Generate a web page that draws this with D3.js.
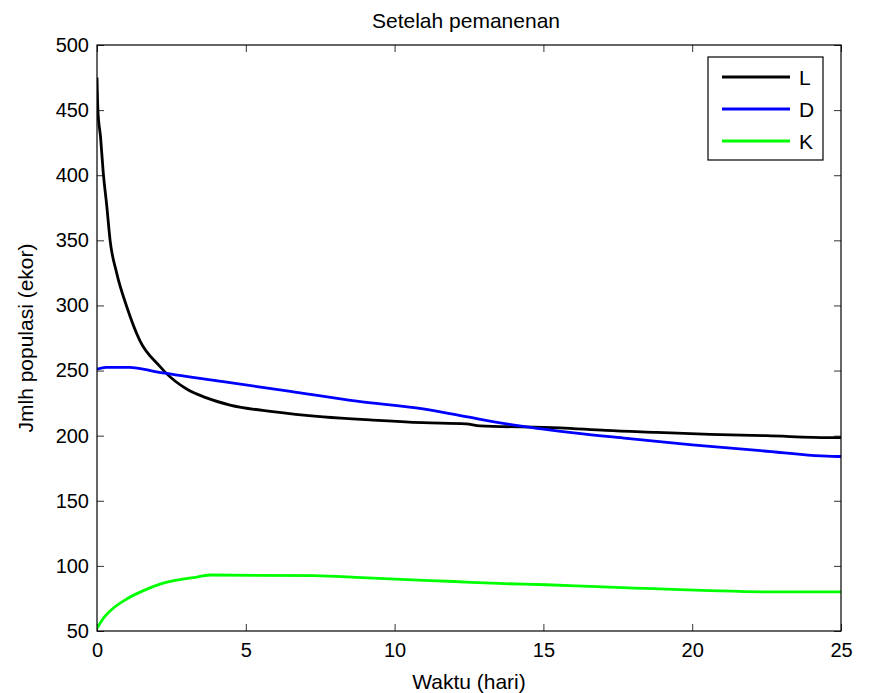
<!DOCTYPE html>
<html>
<head>
<meta charset="utf-8">
<script src="https://cdn.jsdelivr.net/npm/d3@7"></script>
<style>
  html, body { margin: 0; padding: 0; background: #fff; }
  svg { display: block; font-family: "Liberation Sans", Arial, sans-serif; }
  .tick text { font-size: 20px; fill: #000; }
</style>
</head>
<body>
<div id="chart"></div>
<script>
// data (waktu in hari, populasi in ekor)
const waktuL = [0, 0.03, 0.12, 0.21, 0.33, 0.44, 0.66, 1.0, 1.44, 2.12, 2.28, 3.0, 3.68, 4.47, 5.9, 7.6, 9.27, 10.95, 12.4, 12.87, 15.56, 17.1, 18.8, 20.6, 22.5, 24.6, 25];
const nilaiL = [475, 450, 429, 402, 376, 350, 325, 299, 273, 253, 249, 236, 229, 223.5, 218.5, 214.5, 212, 210, 209, 207.5, 206, 204, 202.5, 201, 200, 198.5, 198.5];

const waktuD = [0, 0.3, 1.1, 2.0, 4.24, 6.5, 8.73, 10.96, 12.3, 14.2, 16.1, 17.8, 20.0, 22.3, 24.85, 25];
const nilaiD = [251, 252.5, 252.5, 249, 241.5, 234, 226.5, 220.5, 215, 207.5, 202, 198, 193, 188.5, 184, 184];

const waktuK = [0, 0.21, 0.44, 1.0, 1.56, 2.12, 2.68, 3.24, 3.8, 7.3, 8.9, 10.4, 12.0, 13.5, 15.1, 16.8, 18.7, 20.6, 22.7, 25];
const nilaiK = [52, 59.7, 65.4, 74.6, 81, 86, 89, 91, 93, 92.5, 91, 89.5, 88, 86.5, 85.5, 84, 82.5, 81, 80, 80];

const seriesNames = ['L', 'D', 'K'];
const seriesColors = ['#000000', '#0000ff', '#00ff00'];
const xTicks = [0, 5, 10, 15, 20, 25];
const yTicks = [50, 100, 150, 200, 250, 300, 350, 400, 450, 500];

const series = [
  waktuL.map((t, i) => [t, nilaiL[i]]),
  waktuD.map((t, i) => [t, nilaiD[i]]),
  waktuK.map((t, i) => [t, nilaiK[i]])
];

const width = 870, height = 693;
const margin = { top: 45, right: 29, bottom: 62, left: 97 };
const iw = width - margin.left - margin.right;
const ih = height - margin.top - margin.bottom;

const svg = d3.select('#chart').append('svg')
  .attr('width', width)
  .attr('height', height);

const x = d3.scaleLinear().domain([0, 25]).range([0, iw]);
const y = d3.scaleLinear().domain([50, 500]).range([ih, 0]);

const g = svg.append('g').attr('transform', `translate(${margin.left},${margin.top})`);

// axes, MATLAB style: ticks inward on all four sides
const tickLen = 7;
const styleAxis = (sel) => {
  sel.select('.domain').remove();
  sel.selectAll('.tick line').attr('stroke', '#333').attr('stroke-width', 1);
};

g.append('g')
  .attr('transform', `translate(0,${ih})`)
  .call(d3.axisBottom(x).tickValues(xTicks).tickSizeInner(-tickLen).tickSizeOuter(0).tickPadding(12))
  .call(styleAxis)
  .call(a => a.selectAll('.tick text').attr('dy', '0.71em'));

g.append('g')
  .call(d3.axisTop(x).tickValues(xTicks).tickSizeInner(-tickLen).tickSizeOuter(0).tickFormat(''))
  .call(styleAxis);

g.append('g')
  .call(d3.axisLeft(y).tickValues(yTicks).tickSizeInner(-tickLen).tickSizeOuter(0).tickPadding(9))
  .call(styleAxis)
  .call(a => a.selectAll('.tick text').attr('x', -8));

g.append('g')
  .attr('transform', `translate(${iw},0)`)
  .call(d3.axisRight(y).tickValues(yTicks).tickSizeInner(-tickLen).tickSizeOuter(0).tickFormat(''))
  .call(styleAxis);

// clip the lines to the plot box
g.append('clipPath').attr('id', 'clip')
  .append('rect').attr('width', iw).attr('height', ih);

const line = d3.line()
  .curve(d3.curveMonotoneX)
  .x(d => x(d[0]))
  .y(d => y(d[1]));

g.append('g').attr('clip-path', 'url(#clip)')
  .selectAll('path')
  .data(series)
  .join('path')
  .attr('fill', 'none')
  .attr('stroke', (d, i) => seriesColors[i])
  .attr('stroke-width', 2.8)
  .attr('stroke-linejoin', 'round')
  .attr('d', line);

// box
g.append('rect')
  .attr('width', iw)
  .attr('height', ih)
  .attr('fill', 'none')
  .attr('stroke', '#000')
  .attr('stroke-width', 1.2);

// title and axis labels
svg.append('text')
  .attr('x', margin.left + iw / 2 - 3)
  .attr('y', 28)
  .attr('text-anchor', 'middle')
  .style('font-size', '21px')
  .text('Setelah pemanenan');

svg.append('text')
  .attr('x', margin.left + iw / 2)
  .attr('y', 689)
  .attr('text-anchor', 'middle')
  .style('font-size', '21px')
  .text('Waktu (hari)');

svg.append('text')
  .attr('transform', `translate(33,${margin.top + ih / 2}) rotate(-90)`)
  .attr('text-anchor', 'middle')
  .style('font-size', '21px')
  .text('Jmlh populasi (ekor)');

// legend
const legend = svg.append('g').attr('transform', 'translate(708,57)');
legend.append('rect')
  .attr('width', 115)
  .attr('height', 103)
  .attr('fill', '#fff')
  .attr('stroke', '#000')
  .attr('stroke-width', 1.2);

const rows = legend.selectAll('g.row')
  .data(seriesNames)
  .join('g')
  .attr('class', 'row')
  .attr('transform', (d, i) => `translate(0,${20 + i * 32})`);

rows.append('line')
  .attr('x1', 14).attr('x2', 82)
  .attr('stroke', (d, i) => seriesColors[i])
  .attr('stroke-width', 2.8);

rows.append('text')
  .attr('x', 91)
  .attr('dy', '0.36em')
  .style('font-size', '21px')
  .text(d => d);
</script>
</body>
</html>
